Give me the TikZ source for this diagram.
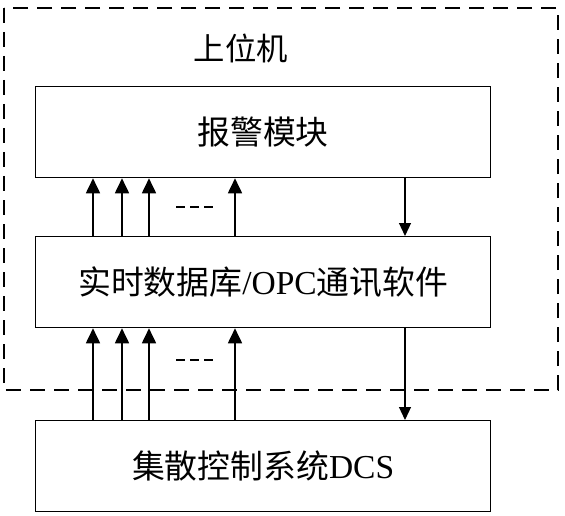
\documentclass[tikz,border=0pt]{standalone}
\usepackage{fontspec}
\setmainfont{Liberation Serif}
\newfontfamily\cjk{Noto Sans CJK SC}[Scale=0.98]
\usetikzlibrary{arrows.meta}
\begin{document}
\begin{tikzpicture}[x=1pt,y=-1pt,
  box/.style={draw,line width=1.3pt,minimum width=455pt,minimum height=91pt,anchor=north west,inner sep=0pt,font=\fontsize{33.5}{40}\selectfont},
  uparrow/.style={line width=1.8pt,-{Triangle[width=14pt,length=15pt]}},
  downarrow/.style={line width=1.2pt,-{Triangle[width=12pt,length=13pt]}},
  frame/.style={draw,line width=1.6pt,dash pattern=on 15pt off 9pt},
  dots/.style={line width=1.6pt,dash pattern=on 9pt off 5pt}]
\useasboundingbox (0,0) rectangle (565,516);
\draw[frame] (4,8) rectangle (558,390);
\node[font=\fontsize{32}{38}\selectfont] (title) at (241,48) {\cjk 上位机};
\node[box] (alarm) at (35,86) {\cjk 报警模块};
\node[box] (db) at (35,236) {{\cjk 实时数据库}/OPC{\cjk 通讯软件}};
\node[box] (dcs) at (35,420) {{\cjk 集散控制系统}DCS};
\foreach \dx in {58,87,114,200}{
  \draw[uparrow] ([xshift=\dx pt]db.north west) -- ([xshift=\dx pt]alarm.south west);
  \draw[uparrow] ([xshift=\dx pt]dcs.north west) -- ([xshift=\dx pt]db.south west);
}
\draw[downarrow] ([xshift=370pt]alarm.south west) -- ([xshift=370pt]db.north west);
\draw[downarrow] ([xshift=370pt]db.south west) -- ([xshift=370pt]dcs.north west);
\draw[dots] (176,207) -- (213,207);
\draw[dots] (176,360) -- (213,360);
\end{tikzpicture}
\end{document}
